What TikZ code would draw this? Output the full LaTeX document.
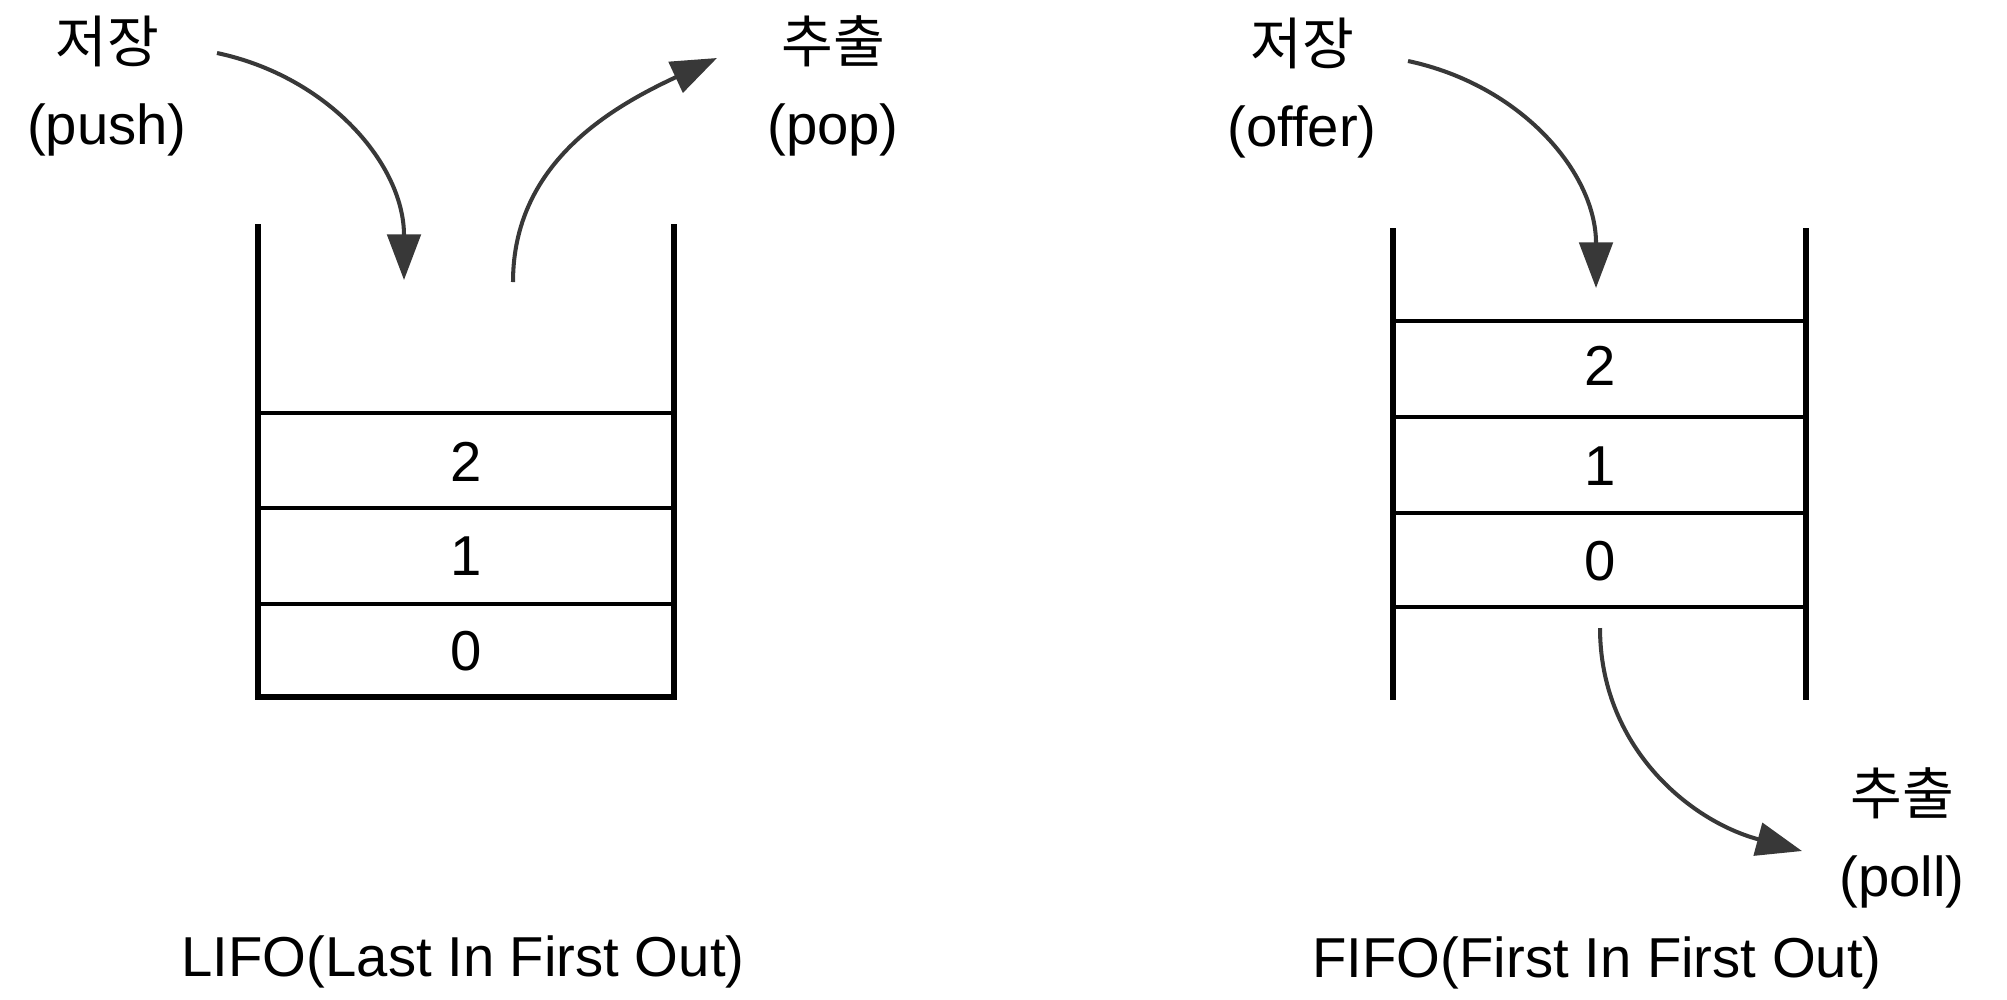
\documentclass[tikz,border=0pt]{standalone}
\usepackage{fontspec}
\setmainfont{Liberation Sans}
\newfontfamily\kr{Noto Sans CJK KR}
\usetikzlibrary{arrows.meta}
\tikzset{
  wall/.style={line width=1.5pt},
  slot/.style={line width=0.95pt},
  flow/.style={line width=1.15pt, draw=black!78, -{Triangle[length=13pt,width=9.5pt,fill=black!78]}},
  lbl/.style={align=center, font=\fontsize{16}{23.5}\selectfont, inner sep=0pt},
  num/.style={font=\fontsize{16}{18}\selectfont, inner sep=0pt},
  captext/.style={font=\fontsize{16}{18}\selectfont, inner sep=0pt}
}
\begin{document}
\begin{tikzpicture}[x=0.01cm,y=-0.01cm]
                \useasboundingbox (0,0) rectangle (2007,999);
                % LIFO stack
                \draw[wall] (258,224) -- (258,697) -- (674,697) -- (674,224);
                \foreach \y in {413,508,604}
                \draw[slot] (258,\y) -- (674,\y);
                \node[num] (s2) at (466,462) {2};
                \node[num] (s1) at (466,556) {1};
                \node[num] (s0) at (466,651) {0};
                \node[lbl] (push) at (107,86) {{\kr 저장}\\(push)};
                \node[lbl] (pop) at (833,86) {{\kr 추출}\\(pop)};
                \coordinate (pushstart) at (217,53);
                \coordinate (pushend) at (404,280);
                \coordinate (popstart) at (513,282);
                \coordinate (popend) at (717,58);
                \draw[flow] (pushstart) to[out=-12,in=90] (pushend);
                \draw[flow] (popstart) to[out=90,in=-155] (popend);
                \node[captext] (lifo) at (463,962) {LIFO(Last In First Out)};
                % FIFO queue
                \draw[wall] (1393,228) -- (1393,700);
                \draw[wall] (1806,228) -- (1806,700);
                \foreach \y in {321,417,513,607}
                \draw[slot] (1393,\y) -- (1806,\y);
                \node[num] (q2) at (1600,366) {2};
                \node[num] (q1) at (1600,466) {1};
                \node[num] (q0) at (1600,561) {0};
                \node[lbl] (offer) at (1302,88) {{\kr 저장}\\(offer)};
                \node[lbl] (poll) at (1902,838) {{\kr 추출}\\(poll)};
                \coordinate (offerstart) at (1408,61);
                \coordinate (offerend) at (1596,288);
                \coordinate (pollstart) at (1600,628);
                \coordinate (pollend) at (1802,851);
                \draw[flow] (offerstart) to[out=-12,in=90] (offerend);
                \draw[flow] (pollstart) to[out=-90,in=165] (pollend);
                \node[captext] (fifo) at (1597,963) {FIFO(First In First Out)};
            \end{tikzpicture}
\end{document}
